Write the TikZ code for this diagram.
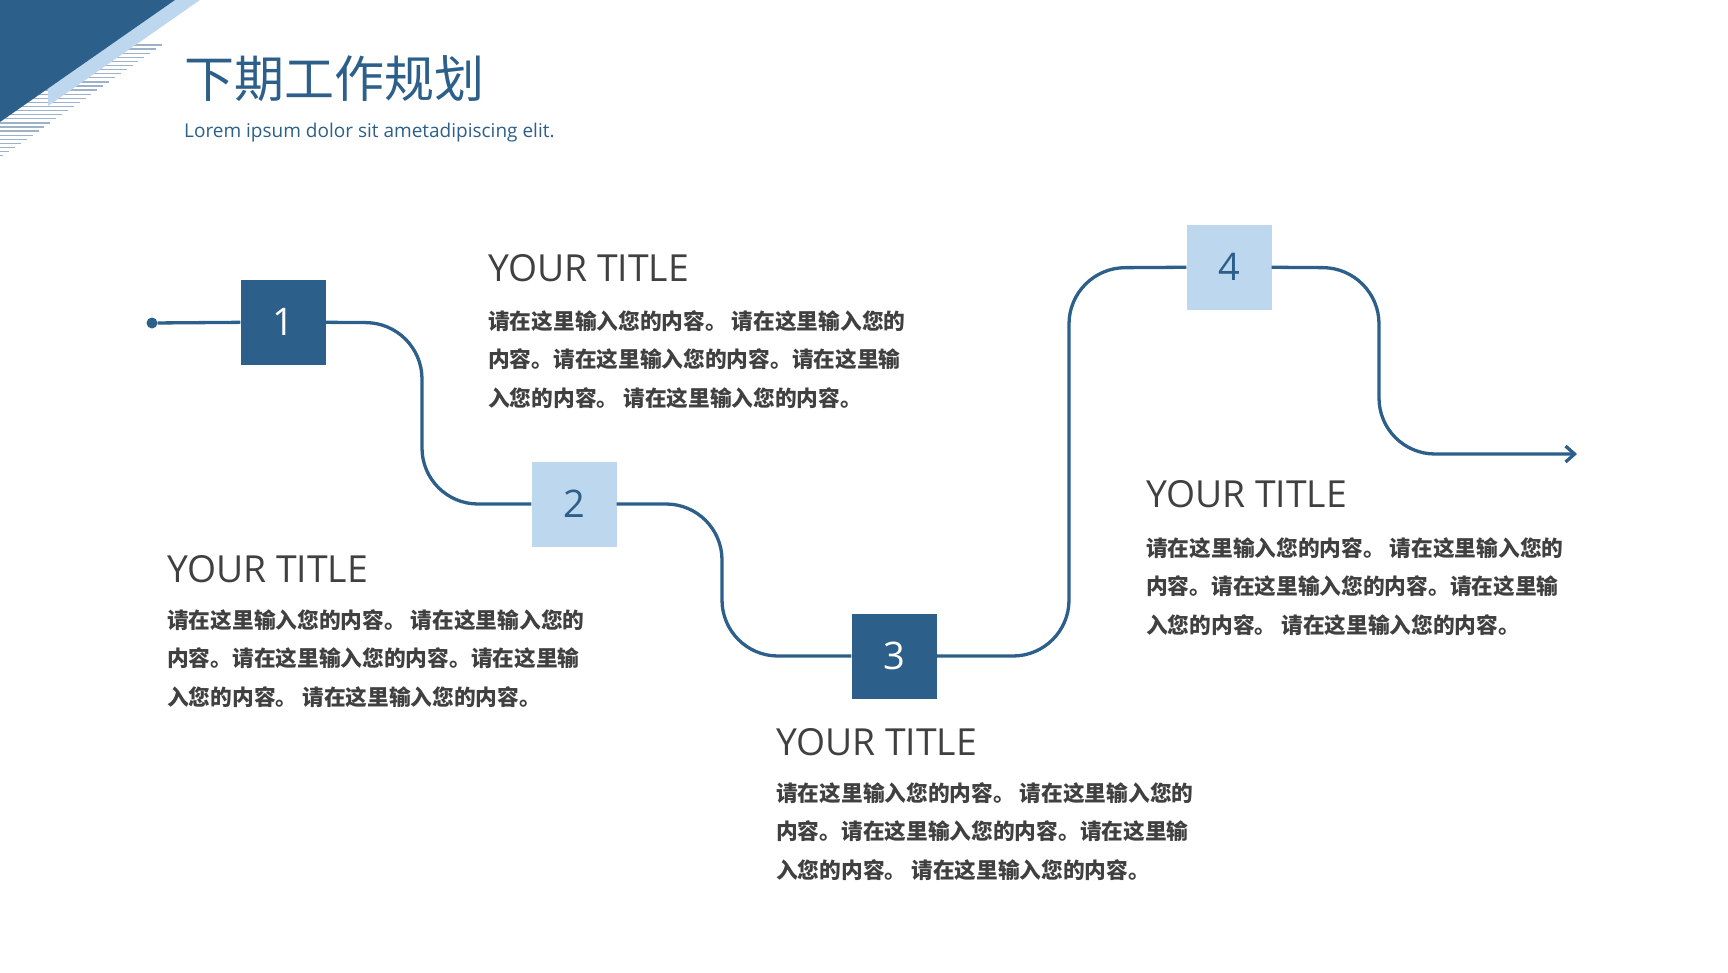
\documentclass[tikz,border=0pt]{standalone}
\usepackage{fontspec}
\setmainfont{Open Sans}
\newfontfamily\cjk{Noto Sans CJK SC}
\usetikzlibrary{positioning,arrows.meta}

\definecolor{planblue}{HTML}{2C5F8A}
\definecolor{planlight}{HTML}{BDD7EE}
\definecolor{plangrey}{HTML}{404040}
\definecolor{planhatch}{HTML}{9DB1C8}

\tikzset{
  darkstep/.style={fill=planblue, text=white, minimum size=85pt, inner sep=0pt,
    font=\fontsize{38}{40}\selectfont},
  lightstep/.style={darkstep, fill=planlight, text=planblue},
  flow/.style={draw=planblue, line width=3.3pt, rounded corners=56pt},
  startdot/.style={circle, fill=planblue, minimum size=11pt, inner sep=0pt},
  steptitle/.style={anchor=west, inner sep=0pt, text=plangrey,
    font=\fontsize{37.3}{40}\selectfont},
  stepbody/.style={anchor=north west, inner sep=0pt, align=left, text=plangrey,
    font=\cjk\bfseries\fontsize{21.7}{38.5}\selectfont},
}

\begin{document}
\begin{tikzpicture}[x=1pt, y=-1pt]

        \useasboundingbox (0,0) rectangle (1728,972);

        % Corner decoration
        \foreach \i in {0,...,27}
            \draw[planhatch, line width=1.3pt] (0,45+4.1*\i) -- (162-5.88*\i,45+4.1*\i);
        \fill[planlight] (175,0) -- (200,0) -- (48,106) -- (48,88.5) -- cycle;
        \fill[planblue] (0,0) -- (175,0) -- (0,122) -- cycle;

        % Heading
        \node[anchor=west, inner sep=0pt, text=planblue, font=\cjk\fontsize{50}{55}\selectfont] (heading) at (184,79) {下期工作规划};
        \node[anchor=west, inner sep=0pt, text=planblue, font=\fontsize{19}{21}\selectfont] (subheading) at (184,133) {Lorem ipsum dolor sit ametadipiscing elit.};

        % Steps
        \node[startdot] (start) at (152,323) {};
        \node[darkstep] (b1) at (283,322) {1};
        \node[lightstep] (b2) at (574,504) {2};
        \node[darkstep] (b3) at (894,656) {3};
        \node[lightstep] (b4) at (1229,267) {4};
        \coordinate (tip) at (1577,454);

        % Path between the steps
        \draw[flow] (start) -- (b1);
        \draw[flow] (b1) -- (422,323) -- (422,504) -- (b2);
        \draw[flow] (b2) -- (722,504) -- (722,656) -- (b3);
        \draw[flow] (b3) -- (1069,656) -- (1069,268) -- (b4);
        \draw[flow, -{Straight Barb[length=9pt, width=16pt]}] (b4) -- (1379,268) -- (1379,454) -- (tip);

        % Texts
        \node[steptitle] (title1) at (488,268) {YOUR TITLE};
        \node[stepbody] (text1) at (488,310) {请在这里输入您的内容。 请在这里输入您的\\内容。请在这里输入您的内容。请在这里输\\入您的内容。 请在这里输入您的内容。};

        \node[steptitle] (title2) at (167,569) {YOUR TITLE};
        \node[stepbody] (text2) at (167,609) {请在这里输入您的内容。 请在这里输入您的\\内容。请在这里输入您的内容。请在这里输\\入您的内容。 请在这里输入您的内容。};

        \node[steptitle] (title3) at (776,742) {YOUR TITLE};
        \node[stepbody] (text3) at (776,782) {请在这里输入您的内容。 请在这里输入您的\\内容。请在这里输入您的内容。请在这里输\\入您的内容。 请在这里输入您的内容。};

        \node[steptitle] (title4) at (1146,494) {YOUR TITLE};
        \node[stepbody] (text4) at (1146,537) {请在这里输入您的内容。 请在这里输入您的\\内容。请在这里输入您的内容。请在这里输\\入您的内容。 请在这里输入您的内容。};

\end{tikzpicture}
\end{document}
